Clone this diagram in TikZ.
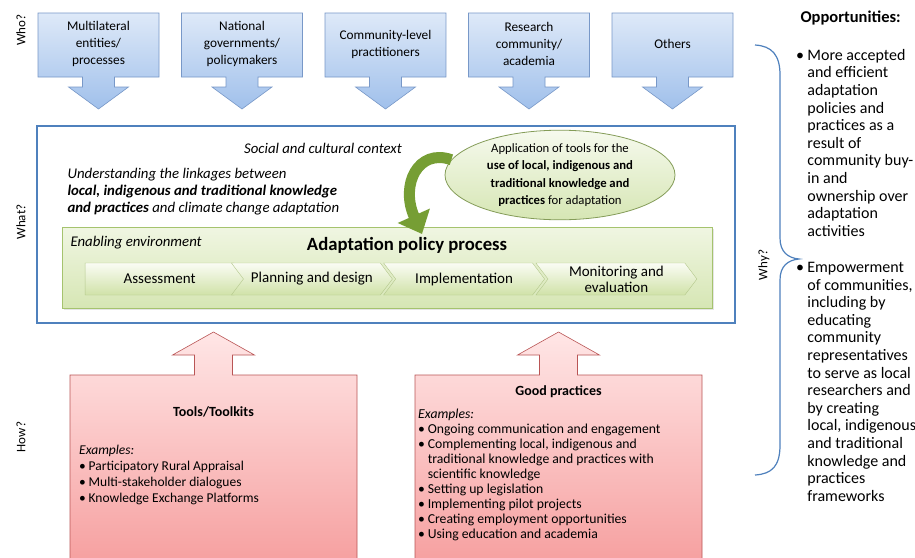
\documentclass[tikz,border=0pt]{standalone}
\usepackage{fontspec}
\setmainfont{Carlito}
\usetikzlibrary{arrows.meta, positioning, shapes.geometric, shapes.symbols, shadows}

\definecolor{frameblue}{RGB}{79,129,189}
\definecolor{whotop}{RGB}{222,233,248}
\definecolor{whobot}{RGB}{160,192,235}
\definecolor{whoedge}{RGB}{120,152,200}
\definecolor{howtop}{RGB}{255,230,230}
\definecolor{howbot}{RGB}{246,160,160}
\definecolor{howedge}{RGB}{185,85,85}
\definecolor{envtop}{RGB}{240,246,226}
\definecolor{envbot}{RGB}{214,230,180}
\definecolor{envedge}{RGB}{165,195,110}
\definecolor{stagetop}{RGB}{250,252,244}
\definecolor{stagebot}{RGB}{208,226,168}
\definecolor{stageedge}{RGB}{180,200,140}
\definecolor{leafgreen}{RGB}{118,158,52}

\newcommand{\bulitem}{\makebox[0.7em][l]{\textbullet}}
\newcommand{\contline}{\hspace*{0.7em}}

\begin{document}
\begin{tikzpicture}[x=1pt, y=-1pt,
	% Node styles
	side label/.style={font=\fontsize{13}{15}\selectfont, rotate=90},
	who text/.style={font=\fontsize{13.3}{17}\selectfont, align=center},
	context text/.style={font=\fontsize{14.8}{17}\selectfont\itshape, align=left},
	stage/.style={
		signal, signal to=east, signal from=west, signal pointer angle=106,
		minimum width=161pt, minimum height=32pt, inner sep=0pt,
		draw=stageedge, top color=stagetop, bottom color=stagebot,
		font=\fontsize{15}{16}\selectfont, align=center,
	},
	tool ellipse/.style={
		ellipse, draw=envedge!80!black, line width=0.8pt,
		top color=envtop!60!white, bottom color=envbot,
		minimum width=230pt, minimum height=80pt, inner sep=0pt,
		font=\fontsize{12.7}{17.5}\selectfont, align=center,
	},
	how title/.style={font=\fontsize{14}{16}\selectfont\bfseries},
	how list/.style={font=\fontsize{13.7}{15}\selectfont, align=left, inner sep=0pt},
	opp list/.style={font=\fontsize{16}{17.6}\selectfont, align=left, inner sep=0pt},
	% Shape styles
	who arrow/.style={draw=whoedge, line width=0.6pt, top color=whotop, bottom color=whobot},
	how arrow/.style={draw=howedge, line width=0.6pt, top color=howtop, bottom color=howbot},
	context frame/.style={draw=frameblue, line width=2.6pt, fill=white},
	enabling/.style={
		draw=envedge, line width=0.8pt, top color=envtop, bottom color=envbot,
		drop shadow={opacity=0.2, shadow xshift=1.5pt, shadow yshift=-1.5pt},
	},
	bend arrow/.style={leafgreen, line width=11pt, -{Triangle[length=20pt, width=34pt]}},
]
	\path[use as bounding box, fill=white] (0,0) rectangle (915,557);

	% --- Who? ---
	\foreach \cx in {98.5, 242, 385.5, 529, 672.5} {
		\draw[who arrow] (\cx-60.5,13) -- (\cx+60.5,13) -- (\cx+60.5,77) -- (\cx+16,77)
			-- (\cx+16,87) -- (\cx+30,87) -- (\cx,109) -- (\cx-30,87) -- (\cx-16,87)
			-- (\cx-16,77) -- (\cx-60.5,77) -- cycle;
	}
	\node[who text] (multi) at (98.5,44) {Multilateral\\entities/\\processes};
	\node[who text] (national) at (242,44) {National\\governments/\\policymakers};
	\node[who text] (community) at (385.5,44) {Community-level\\practitioners};
	\node[who text] (research) at (529,44) {Research\\community/\\academia};
	\node[who text] (others) at (672.5,44) {Others};

	% --- What? ---
	\draw[context frame] (37,126) rectangle (735,323);
	\node[context text] (social) at (323,148) {Social and cultural context};
	\node[context text, anchor=west] (linkage) at (64,192)
		{Understanding\ the linkages between\\\textbf{local, indigenous and traditional\ knowledge}\\\textbf{and practices} and climate change adaptation};

	\draw[enabling] (62,227) rectangle (712,308);
	\node[context text, anchor=west] (enable) at (67,243) {Enabling environment};
	\node[font=\fontsize{18.7}{20}\selectfont\bfseries] (policy) at (407,245) {Adaptation policy process};

	\node[stage, signal from=nowhere] (assess) at (159.6,279) {Assessment};
	\node[stage] (plan) at (311.9,279) {Planning and design};
	\node[stage] (impl) at (464.1,279) {Implementation};
	\node[stage] (monitor) at (616.4,279) {Monitoring and\\evaluation};

	\node[tool ellipse] (apply) at (560,175)
		{Application of tools for the\\\textbf{use of local,\ indigenous\ and}\\\textbf{traditional\ knowledge and}\\\textbf{practices} for adaptation};
	\coordinate (bendtip) at (422,234);
	\draw[bend arrow] (apply.172) .. controls (418,148) and (400,185) .. (bendtip);

	% --- How? ---
	\foreach \cx in {213.5, 558.5} {
		\draw[how arrow] (\cx-143.5,562) -- (\cx-143.5,375) -- (\cx-19,375) -- (\cx-19,355)
			-- (\cx-41,355) -- (\cx,332) -- (\cx+41,355) -- (\cx+19,355) -- (\cx+19,375)
			-- (\cx+143.5,375) -- (\cx+143.5,562) -- cycle;
	}
	\node[how title] (toolkits) at (213.5,412) {Tools/Toolkits};
	\node[how list, anchor=west, font=\fontsize{13.5}{16}\selectfont] (toolex) at (79,475)
		{\textit{Examples:}\\\bulitem Participatory Rural Appraisal\\\bulitem Multi-stakeholder dialogues\\\bulitem Knowledge Exchange Platforms};

	\node[how title] (goodprac) at (558.5,392) {Good practices};
	\node[how list, anchor=west] (goodex) at (418,475)
		{\textit{Examples:}\\
		\bulitem Ongoing communication and engagement\\
		\bulitem Complementing\ local, indigenous and\\
		\contline traditional\ knowledge and practices with\\
		\contline scientific knowledge\\
		\bulitem Setting up legislation\\
		\bulitem Implementing pilot projects\\
		\bulitem Creating employment\ opportunities\\
		\bulitem Using education and academia};

	% --- Why? ---
	\draw[frameblue, line width=1.2pt] (755,45) .. controls (772,46) and (780,55) .. (780,75)
		-- (780,238) .. controls (780,252) and (788,258) .. (799,259)
		.. controls (788,260) and (780,266) .. (780,280)
		-- (780,445) .. controls (780,466) and (772,474) .. (755,475);

	\node[font=\fontsize{16.5}{18}\selectfont\bfseries, anchor=west] (opptitle) at (797,18) {Opportunities:};
	\node[opp list, anchor=north west] (oppone) at (796,49)
		{\bulitem More accepted\\\contline and efficient\\\contline adaptation\\\contline policies and\\
		\contline practices as a\\\contline result of\\\contline community buy-\\\contline in and\\
		\contline ownership over\\\contline adaptation\\\contline activities};
	\node[opp list, anchor=north west] (opptwo) at (796,262)
		{\bulitem Empowerment\\\contline of communities,\\\contline including by\\\contline educating\\
		\contline community\\\contline representatives\\\contline to serve as local\\\contline researchers and\\
		\contline by creating\\\contline local, indigenous\\\contline and traditional\\\contline knowledge and\\
		\contline practices\\\contline frameworks};

	% --- Side labels ---
	\foreach \q/\y/\n in {Who?/30/wholabel, What?/222/whatlabel, How?/437/howlabel} {
		\node[side label] (\n) at (21,\y) {\q};
	}
	\node[side label] (whylabel) at (764,265) {Why?};

\end{tikzpicture}
\end{document}
